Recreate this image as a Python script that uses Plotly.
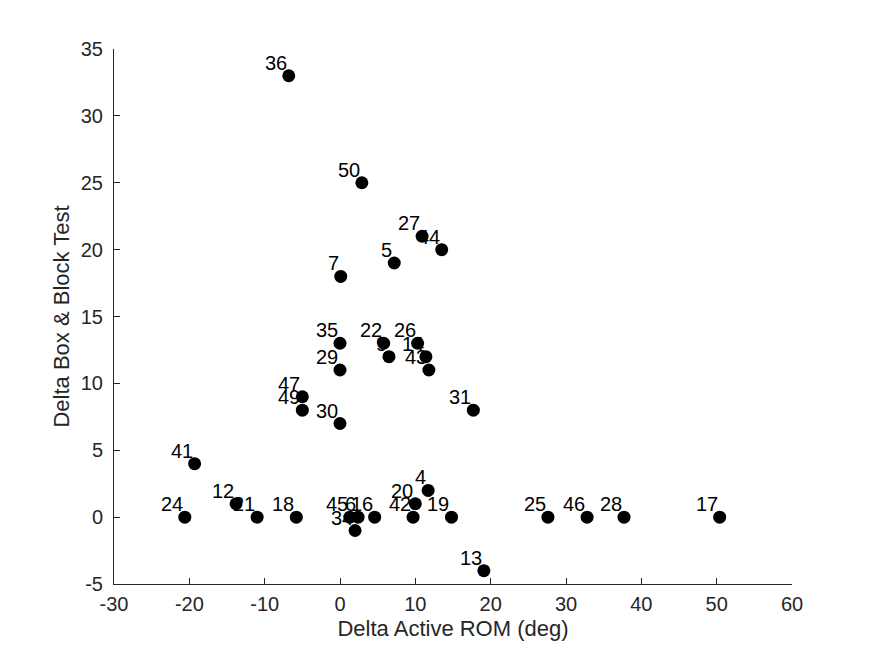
#block one imports
import plotly.graph_objects as go

#block two dados
ids = ["36", "50", "27", "44", "5", "7", "35", "22", "9", "26", "14", "43",
       "29", "47", "49", "30", "31", "41", "4", "12", "20", "24", "21", "18",
       "45", "6", "16", "34", "42", "19", "25", "46", "28", "17", "13"]
delta_rom = [-6.8, 2.9, 10.9, 13.5, 7.2, 0.1, 0.0, 5.8, 6.5, 10.3, 11.4, 11.8,
             0.0, -5.0, -5.0, 0.0, 17.7, -19.3, 11.7, -13.8, 10.0, -20.6, -11.0, -5.8,
             1.3, 2.4, 4.6, 2.0, 9.7, 14.8, 27.6, 32.8, 37.7, 50.4, 19.1]
delta_bbt = [33, 25, 21, 20, 19, 18, 13, 13, 12, 13, 12, 11,
             11, 9, 8, 7, 8, 4, 2, 1, 1, 0, 0, 0,
             0, 0, 0, -1, 0, 0, 0, 0, 0, 0, -4]

x_ticks = list(range(-30, 61, 10))
y_ticks = list(range(-5, 36, 5))

fonte = "Liberation Sans, Arial"
cinza = "#262626"

#block tree grafico
fig = go.Figure()
fig.add_trace(go.Scatter(
    x=delta_rom,
    y=delta_bbt,
    mode="markers",
    marker=dict(color="black", size=13),
    showlegend=False,
    cliponaxis=False,
))

# rotulos dos pontos (canto superior esquerdo de cada ponto)
for xi, yi, rot in zip(delta_rom, delta_bbt, ids):
    fig.add_annotation(
        x=xi, y=yi, text=rot, showarrow=False,
        xanchor="right", yanchor="bottom",
        xshift=0, yshift=0,
        font=dict(family=fonte, size=20, color="black"),
    )

eixo = dict(
    showgrid=False,
    zeroline=False,
    showline=True,
    linecolor=cinza,
    linewidth=1,
    ticks="inside",
    ticklen=6,
    tickcolor=cinza,
    automargin=False,
    tickfont=dict(family=fonte, size=20, color=cinza),
    title_font=dict(family=fonte, size=22, color=cinza),
)

fig.update_xaxes(eixo, range=[-30, 60], tickvals=x_ticks,
                 ticktext=[str(v) for v in x_ticks], ticklabelstandoff=2,
                 title_text="Delta Active ROM (deg)", title_standoff=6)
fig.update_yaxes(eixo, range=[-5, 35], tickvals=y_ticks,
                 ticktext=[str(v) for v in y_ticks], ticklabelstandoff=6,
                 title_text="Delta Box & Block Test", title_standoff=5)

# a pagina tem 8px de margem no body, por isso o deslocamento
fig.update_layout(
    width=875,
    height=656,
    plot_bgcolor="white",
    paper_bgcolor="white",
    margin=dict(l=106, r=91, t=41, b=80),
)

fig.write_html("out.html")
